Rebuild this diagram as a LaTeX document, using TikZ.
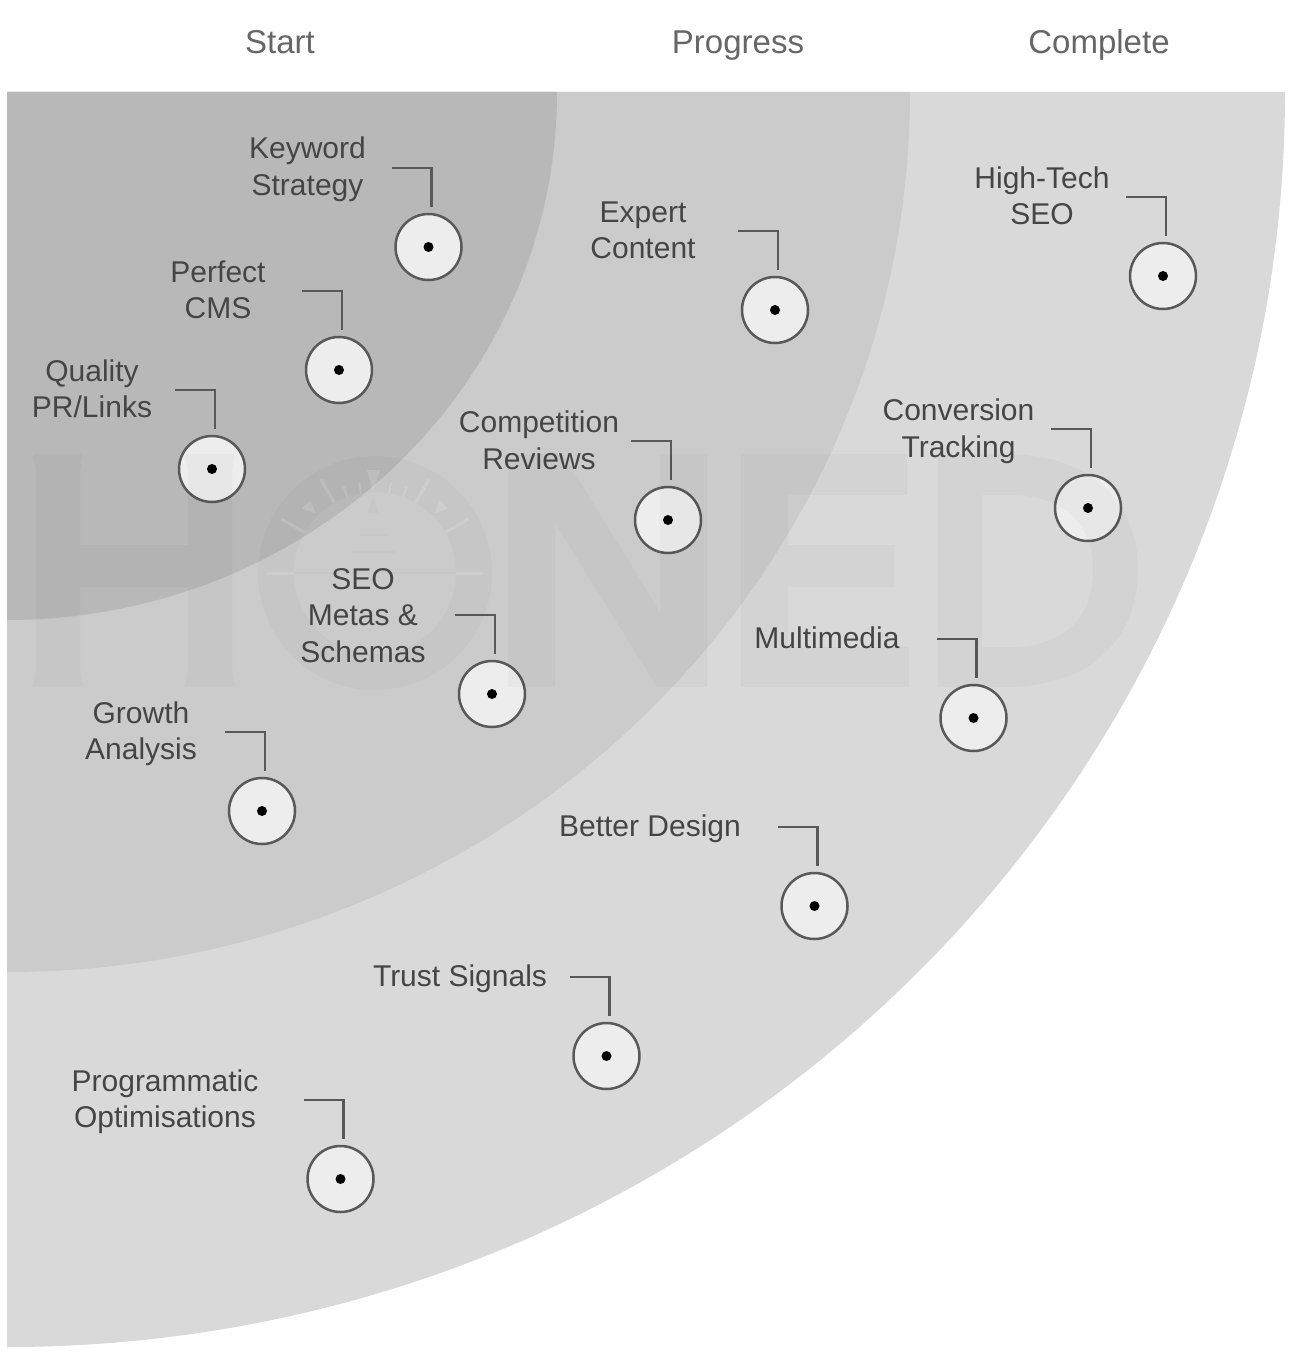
\documentclass[tikz,border=0pt]{standalone}
\usepackage{fontspec}
\setmainfont{Liberation Sans}
\usetikzlibrary{calc}

\definecolor{ringouter}{HTML}{D9D9D9}
\definecolor{ringmiddle}{HTML}{CBCBCB}
\definecolor{ringinner}{HTML}{B8B8B8}

% one marker: name, marker x, y, label x, y, label text
\newcommand\markeritem[6]{
	\node [marker] (#1) at (#2, #3) {} ;
	\node [marker dot] (#1 dot) at (#1.center) {} ;
	\node [marker label] (#1 label) at (#4, #5) {#6} ;
	\coordinate (#1 tail) at ($(#1) + (-37, -79)$) ;
	\coordinate (#1 tip) at ($(#1) + (3, -40)$) ;
	\draw [elbow] (#1 tail) -| (#1 tip) ;
}

\begin{document}
\begin{tikzpicture}[x=1pt, y=-1pt]

\useasboundingbox (0, 0) rectangle (1296, 1356) ;

% rings

\def\originx{7}
\def\originy{92}

\fill [color=ringouter] (\originx, \originy) -- (\originx + 1278, \originy)
	arc [start angle=0, end angle=90, x radius=1278, y radius=1255] -- cycle ;
\fill [color=ringmiddle] (\originx, \originy) -- (\originx + 903, \originy)
	arc [start angle=0, end angle=90, x radius=903, y radius=880] -- cycle ;
\fill [color=ringinner] (\originx, \originy) -- (\originx + 550, \originy)
	arc [start angle=0, end angle=90, x radius=550, y radius=528] -- cycle ;

% column titles

\tikzstyle{column title} = [text=black!60, font=\fontsize{33}{36}\selectfont]

\node [column title] (start title) at (280, 42) {Start} ;
\node [column title] (progress title) at (738, 45.5) {Progress} ;
\node [column title] (complete title) at (1099, 45) {Complete} ;

% markers, labels and their elbows

\tikzstyle{marker} = [shape=circle, draw=black!65, line width=2.5pt, fill=black!7, minimum size=66pt, inner sep=0pt]
\tikzstyle{marker dot} = [shape=circle, fill=black, minimum size=10pt, inner sep=0pt]
\tikzstyle{marker label} = [text=black!73, align=center, font=\fontsize{30}{36.5}\selectfont, inner sep=0pt]
\tikzstyle{elbow} = [line width=2.5pt, color=black!65]

\markeritem{keyword}{428.5}{247}{307.5}{169}{Keyword\\Strategy}
\markeritem{cms}{339}{370}{218}{290}{Perfect\\CMS}
\markeritem{links}{212}{469}{92}{389}{Quality\\PR/Links}
\markeritem{content}{775}{310}{643}{230.5}{Expert\\Content}
\markeritem{reviews}{668}{520}{539}{440.5}{Competition\\Reviews}
\markeritem{schemas}{492}{694}{363}{615.5}{SEO\\Metas \&\\Schemas}
\markeritem{growth}{262}{811}{141}{733.5}{Growth\\Analysis}
\markeritem{hightech}{1163}{276}{1042}{196}{High-Tech\\SEO}
\markeritem{tracking}{1088}{508}{958.5}{431}{Conversion\\Tracking}
\markeritem{multimedia}{973.5}{718}{827}{638}{Multimedia}
\markeritem{design}{814.5}{906}{650}{829}{Better Design}
\markeritem{trust}{606.5}{1056}{460}{979}{Trust Signals}
\markeritem{programmatic}{340.5}{1179}{165}{1101.5}{Programmatic\\Optimisations}

% faint lettering across the rings

\tikzstyle{faint} = [fill=black, fill opacity=.022, even odd rule]
\tikzstyle{faint tick} = [line width=3pt, color=white, opacity=.14]
\tikzstyle{faint rule} = [line width=1.5pt, color=black, opacity=.018]

\fill [faint] (33, 454) -- (83, 454) -- (80, 470) -- (80, 545) -- (188, 545) -- (188, 470) -- (185, 454)
	-- (235, 454) -- (232, 470) -- (232, 670) -- (235, 687) -- (185, 687) -- (188, 670) -- (188, 587)
	-- (80, 587) -- (80, 670) -- (83, 687) -- (33, 687) -- (36, 670) -- (36, 470) -- cycle ;

\fill [faint] (375, 573) circle [radius=117] (375, 573) circle [radius=81] ;

\fill [faint] (508, 454) -- (563, 454) -- (660, 612) -- (660, 454) -- (707, 454) -- (707, 687)
	-- (657, 687) -- (555, 523) -- (555, 687) -- (508, 687) -- cycle ;

\fill [faint] (741, 454) -- (907, 454) -- (907, 495) -- (788, 495) -- (788, 545) -- (894, 545) -- (894, 587)
	-- (788, 587) -- (788, 647) -- (909, 647) -- (909, 687) -- (741, 687) -- cycle ;

\fill [faint] (938, 454) -- (1005, 454) .. controls (1095, 454) and (1138, 505) .. (1138, 570)
	.. controls (1138, 635) and (1095, 687) .. (1005, 687) -- (938, 687) -- cycle
	(982, 495) -- (1010, 495) .. controls (1065, 495) and (1093, 525) .. (1093, 570)
	.. controls (1093, 617) and (1065, 647) .. (1010, 647) -- (982, 647) -- cycle ;

% dial marks inside the ring

\foreach \angle in {0, 30, 60, 120, 150, 180}
	\draw [faint tick] (375, 573) ++(-\angle:81) -- ++(-\angle:27) ;

\foreach \angle in {70, 80, 100, 110}
	\draw [faint tick, line width=2pt] (375, 573) ++(-\angle:81) -- ++(-\angle:11) ;

\foreach \angle in {45, 135}
	\fill [white, opacity=.14] (375, 573) ++(-\angle:84) -- ++(-\angle + 25:14) -- ++(-\angle - 85:12) -- cycle ;

\fill [white, opacity=.14] (367, 470) -- (380, 470) -- (373, 492) -- cycle ;
\fill [black, opacity=.025] (373, 497) -- (368, 513) -- (378, 513) -- cycle ;
\draw [faint rule] (360, 535) -- (387, 535) ;
\draw [faint rule] (352, 552) -- (395, 552) ;
\draw [faint rule] (294, 573) -- (456, 573) ;

\end{tikzpicture}
\end{document}
